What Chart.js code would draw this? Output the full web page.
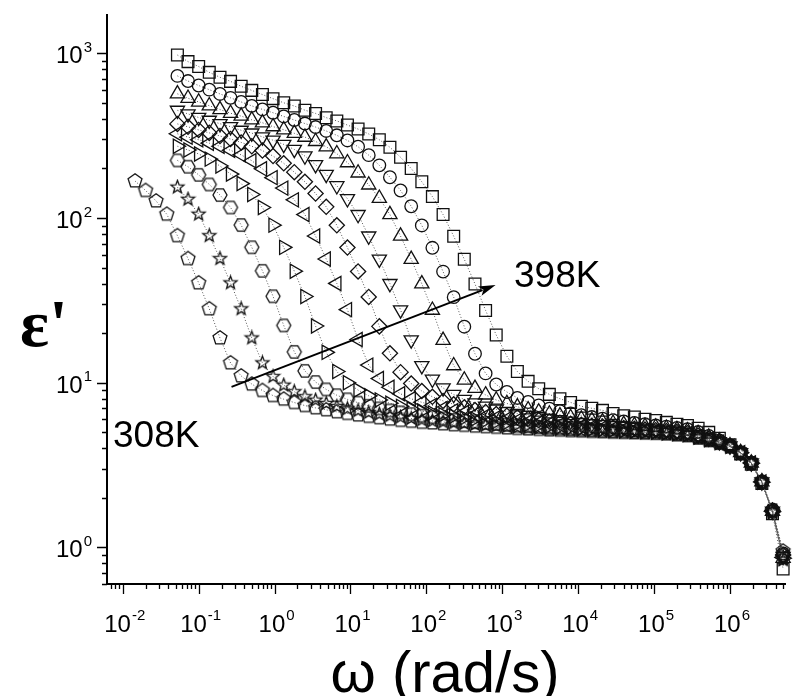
<!DOCTYPE html>
<html>
<head>
<meta charset="utf-8">
<script src="https://cdn.jsdelivr.net/npm/chart.js@4.4.1/dist/chart.umd.min.js"></script>
<style>
  html, body { margin: 0; padding: 0; background: #fff; }
  canvas { display: block; }
</style>
</head>
<body>
<canvas id="epsChart" width="795" height="696"></canvas>
<script>
// angular frequency sweep (rad/s), shared by all temperatures
const omega = [0.0145, 0.02, 0.0275, 0.038, 0.0525, 0.0724, 0.1, 0.138, 0.191, 0.263,
  0.363, 0.501, 0.692, 0.955, 1.32, 1.82, 2.51, 3.47, 4.79, 6.61,
  9.12, 12.6, 17.4, 24, 33.1, 45.7, 63.1, 87.1, 120, 166,
  229, 316, 437, 603, 832, 1150, 1580, 2190, 3020, 4170,
  5750, 7940, 11000, 15100, 20900, 28800, 39800, 55000, 75900, 105000,
  145000, 200000, 275000, 380000, 525000, 724000, 1000000, 1380000, 1910000, 2630000,
  3630000, 5010000];

// real permittivity eps' at each temperature
const eps308 = [168, 147, 127, 105.5, 78.1, 56.7, 40.4, 28.1, 18.7, 13.2,
  11.0, 9.82, 8.97, 8.36, 7.95, 7.58, 7.27, 7.04, 6.85, 6.66,
  6.51, 6.37, 6.25, 6.13, 6.01, 5.91, 5.83, 5.75, 5.7, 5.63,
  5.56, 5.51, 5.45, 5.41, 5.36, 5.32, 5.28, 5.24, 5.21, 5.17,
  5.15, 5.11, 5.09, 5.06, 5.04, 5.01, 4.99, 4.97, 4.95, 4.93,
  4.89, 4.83, 4.77, 4.62, 4.46, 4.3, 4.1, 3.75, 3.25, 2.5,
  1.66, 0.95];
const eps318 = [null, null, null, null, 154, 130, 105.5, 78.1, 56.7, 40.4,
  28.1, 18.7, 13.2, 10.9, 9.67, 8.82, 8.23, 7.84, 7.49, 7.18,
  6.95, 6.77, 6.59, 6.45, 6.31, 6.19, 6.07, 5.95, 5.86, 5.78,
  5.7, 5.65, 5.58, 5.52, 5.46, 5.41, 5.36, 5.32, 5.28, 5.24,
  5.2, 5.16, 5.13, 5.1, 5.07, 5.04, 5.02, 4.99, 4.97, 4.94,
  4.9, 4.85, 4.79, 4.63, 4.47, 4.31, 4.1, 3.75, 3.25, 2.49,
  1.64, 0.84];
const eps328 = [null, null, null, null, 224, 205, 183, 160, 138, 116,
  90.7, 66.5, 47.8, 33.5, 22.3, 15.4, 11.8, 10.1, 9.11, 8.4,
  7.93, 7.57, 7.25, 6.99, 6.79, 6.61, 6.45, 6.31, 6.18, 6.07,
  5.95, 5.85, 5.76, 5.69, 5.62, 5.56, 5.49, 5.44, 5.39, 5.33,
  5.29, 5.24, 5.21, 5.16, 5.13, 5.09, 5.07, 5.03, 5.01, 4.98,
  4.94, 4.88, 4.82, 4.65, 4.49, 4.32, 4.11, 3.76, 3.25, 2.5,
  1.66, 0.9];
const eps338 = [null, null, null, null, 273, 259, 245, 228, 207, 185,
  162, 139, 116, 90.6, 66.4, 47.6, 33.4, 22.1, 15.3, 11.7,
  10.0, 9.03, 8.33, 7.87, 7.51, 7.19, 6.93, 6.73, 6.56, 6.4,
  6.26, 6.13, 6.02, 5.91, 5.8, 5.72, 5.64, 5.58, 5.52, 5.45,
  5.4, 5.34, 5.29, 5.24, 5.2, 5.16, 5.12, 5.08, 5.05, 5.02,
  4.97, 4.91, 4.85, 4.69, 4.52, 4.34, 4.11, 3.76, 3.25, 2.49,
  1.65, 0.86];
const eps348 = [null, null, null, null, 325, 310, 299, 285, 273, 258,
  242, 223, 199, 176, 152, 129, 105, 77.8, 56.4, 40.1,
  27.8, 18.3, 12.8, 10.6, 9.39, 8.57, 7.99, 7.61, 7.28, 6.98,
  6.76, 6.59, 6.41, 6.28, 6.14, 6.03, 5.91, 5.8, 5.71, 5.63,
  5.56, 5.5, 5.44, 5.37, 5.32, 5.26, 5.22, 5.17, 5.13, 5.09,
  5.03, 4.96, 4.89, 4.73, 4.54, 4.35, 4.11, 3.76, 3.26, 2.5,
  1.66, 0.87];
const eps358 = [null, null, null, null, 373, 358, 343, 329, 315, 302,
  288, 273, 257, 238, 215, 190, 166, 141, 117, 90.4,
  66.2, 47.4, 33.2, 22.0, 15.1, 11.6, 9.89, 8.91, 8.22, 7.76,
  7.4, 7.09, 6.83, 6.64, 6.46, 6.31, 6.17, 6.04, 5.94, 5.82,
  5.72, 5.63, 5.56, 5.49, 5.43, 5.36, 5.31, 5.25, 5.2, 5.15,
  5.09, 5.02, 4.94, 4.77, 4.57, 4.37, 4.12, 3.76, 3.25, 2.5,
  1.67, 0.9];
const eps368 = [null, null, null, null, 451, 429, 408, 392, 374, 359,
  341, 328, 311, 297, 280, 261, 238, 211, 184, 157,
  131, 105, 77.7, 56.3, 40.0, 27.7, 18.2, 12.7, 10.5, 9.3,
  8.48, 7.91, 7.53, 7.2, 6.9, 6.69, 6.51, 6.34, 6.21, 6.07,
  5.96, 5.84, 5.73, 5.63, 5.56, 5.48, 5.43, 5.36, 5.3, 5.24,
  5.17, 5.09, 5.01, 4.83, 4.62, 4.39, 4.13, 3.76, 3.26, 2.5,
  1.66, 0.88];
const eps378 = [null, null, null, null, 568, 534, 507, 481, 456, 433,
  416, 395, 379, 359, 344, 327, 310, 292, 271, 246,
  217, 188, 159, 132, 105, 77.7, 56.2, 39.9, 27.6, 18.1,
  12.7, 10.4, 9.25, 8.44, 7.86, 7.49, 7.15, 6.86, 6.65, 6.47,
  6.3, 6.16, 6.03, 5.91, 5.8, 5.68, 5.59, 5.51, 5.44, 5.38,
  5.3, 5.2, 5.11, 4.92, 4.68, 4.43, 4.15, 3.77, 3.26, 2.51,
  1.66, 0.86];
const eps388 = [null, null, null, null, 730, 679, 638, 602, 567, 537,
  507, 480, 457, 436, 414, 394, 375, 357, 338, 318,
  296, 271, 241, 209, 177, 147, 118, 90.2, 66.0, 47.3,
  33.1, 21.9, 15.0, 11.4, 9.76, 8.79, 8.09, 7.64, 7.29, 6.97,
  6.72, 6.52, 6.35, 6.19, 6.06, 5.92, 5.82, 5.7, 5.6, 5.51,
  5.42, 5.32, 5.22, 5.02, 4.75, 4.47, 4.18, 3.78, 3.27, 2.52,
  1.7, 0.92];
const eps398 = [null, null, null, null, 977, 891, 832, 767, 716, 676,
  631, 596, 562, 531, 501, 479, 452, 432, 407, 389,
  367, 347, 324, 299, 269, 234, 200, 166, 135, 105,
  77.6, 56.2, 39.8, 27.5, 19.5, 14.5, 11.7, 10.2, 9.2, 8.5,
  8.0, 7.6, 7.2, 7.0, 6.8, 6.5, 6.3, 6.2, 6.0, 5.9,
  5.75, 5.6, 5.5, 5.3, 5.0, 4.6, 4.2, 3.7, 3.2, 2.45,
  1.6, 0.74];

const temps = ['308K', '318K', '328K', '338K', '348K', '358K', '368K', '378K', '388K', '398K'];
const series = [eps308, eps318, eps328, eps338, eps348, eps358, eps368, eps378, eps388, eps398];

const xDecades = [-2, -1, 0, 1, 2, 3, 4, 5, 6];
const yDecades = [0, 1, 2, 3];

const INK = '#000';
const SANS = "'Liberation Sans', Arial, sans-serif";

// open marker outlines that Chart.js has no built-in for
function outline(points, size) {
  const c = document.createElement('canvas');
  c.width = c.height = size;
  const g = c.getContext('2d');
  g.translate(size / 2, size / 2);
  g.beginPath();
  points.forEach(([px, py], i) => (i ? g.lineTo(px, py) : g.moveTo(px, py)));
  g.closePath();
  g.lineWidth = 1.3;
  g.strokeStyle = '#111';
  g.stroke();
  return c;
}
function polygon(n, r, start) {
  const pts = [];
  for (let i = 0; i < n; i++) {
    const a = start + i * 2 * Math.PI / n;
    pts.push([r * Math.cos(a), r * Math.sin(a)]);
  }
  return pts;
}
function starPoints(r, inner) {
  const pts = [];
  for (let i = 0; i < 10; i++) {
    const a = -Math.PI / 2 + i * Math.PI / 5;
    const rr = i % 2 ? r * inner : r;
    pts.push([rr * Math.cos(a), rr * Math.sin(a)]);
  }
  return pts;
}
const pentagon = outline(polygon(5, 7.3, -Math.PI / 2), 18);
const hexagon = outline(polygon(6, 7, 0), 18);
const star = outline(starPoints(6.8, 0.42), 17);

const markers = [
  { style: pentagon, r: 7, rot: 0 },
  { style: star, r: 6.5, rot: 0 },
  { style: hexagon, r: 7, rot: 0 },
  { style: 'triangle', r: 8.2, rot: 90 },
  { style: 'triangle', r: 8.2, rot: -90 },
  { style: 'rectRot', r: 7.6, rot: 0 },
  { style: 'triangle', r: 8.2, rot: 180 },
  { style: 'triangle', r: 8.2, rot: 0 },
  { style: 'circle', r: 6.3, rot: 0 },
  { style: 'rect', r: 8.3, rot: 0 }
];

const datasets = series.map((vals, i) => ({
  label: temps[i],
  data: omega.map((w, j) => (vals[j] == null ? null : { x: w, y: vals[j] })).filter(p => p),
  borderColor: '#555',
  borderWidth: 1,
  borderDash: [1, 2],
  pointStyle: markers[i].style,
  pointRadius: markers[i].r,
  pointRotation: markers[i].rot,
  pointBorderColor: '#111',
  pointBorderWidth: 1.3,
  pointBackgroundColor: 'rgba(255,255,255,0)',
  tension: 0,
  clip: false
}));

// arrow running from the 308K curves towards the 398K curves
const arrowFrom = { x: 0.271, y: 9.45 };
const arrowTo = { x: 817, y: 39.2 };

function drawPower(ctx, base, exp, x, y, align, baseSize, supSize) {
  ctx.font = baseSize + 'px ' + SANS;
  const bw = ctx.measureText(base).width;
  ctx.font = supSize + 'px ' + SANS;
  const sw = ctx.measureText(exp).width;
  const total = bw + 1 + sw;
  let left = x;
  if (align === 'center') left = x - total / 2;
  if (align === 'right') left = x - total;
  ctx.textAlign = 'left';
  ctx.textBaseline = 'alphabetic';
  ctx.font = baseSize + 'px ' + SANS;
  ctx.fillText(base, left, y);
  ctx.font = supSize + 'px ' + SANS;
  ctx.fillText(exp, left + bw + 1, y - baseSize * 0.48);
}

const logAxes = {
  id: 'logAxes',
  afterDraw(chart) {
    const { ctx, chartArea: area, scales: { x: xs, y: ys } } = chart;
    ctx.save();
    ctx.strokeStyle = INK;
    ctx.fillStyle = INK;
    ctx.lineWidth = 1.3;
    ctx.beginPath();
    for (let d = -1; d <= 3; d++) {
      for (let m = 1; m <= 9; m++) {
        const v = m * Math.pow(10, d);
        if (v < ys.min || v > ys.max) continue;
        const py = Math.round(ys.getPixelForValue(v)) + 0.5;
        ctx.moveTo(area.left - (m === 1 ? 10 : 5), py);
        ctx.lineTo(area.left, py);
      }
    }
    for (let d = -3; d <= 6; d++) {
      for (let m = 1; m <= 9; m++) {
        const v = m * Math.pow(10, d);
        if (v < xs.min || v > xs.max) continue;
        const px = Math.round(xs.getPixelForValue(v)) + 0.5;
        ctx.moveTo(px, area.bottom);
        ctx.lineTo(px, area.bottom + (m === 1 ? 10 : 5));
      }
    }
    ctx.stroke();

    yDecades.forEach(d => {
      const py = ys.getPixelForValue(Math.pow(10, d));
      drawPower(ctx, '10', String(d), area.left - 15, py + 10, 'right', 24, 15);
    });
    xDecades.forEach(d => {
      const px = xs.getPixelForValue(Math.pow(10, d));
      drawPower(ctx, '10', d < 0 ? '-' + (-d) : String(d), px + 2, 632, 'center', 24, 15);
    });

    // axis titles
    ctx.textAlign = 'center';
    ctx.font = '58px ' + SANS;
    ctx.fillText('\u03c9 (rad/s)', 445, 692);
    ctx.font = "bold 68px 'Liberation Serif', serif";
    ctx.fillText('\u03b5\'', 44, 346);

    // temperature labels and arrow
    ctx.textAlign = 'left';
    ctx.font = '37px ' + SANS;
    ctx.fillText('308K', 113, 447);
    ctx.fillText('398K', 514, 287);

    const x0 = xs.getPixelForValue(arrowFrom.x), y0 = ys.getPixelForValue(arrowFrom.y);
    const x1 = xs.getPixelForValue(arrowTo.x), y1 = ys.getPixelForValue(arrowTo.y);
    const ang = Math.atan2(y1 - y0, x1 - x0);
    const head = 17, half = 5;
    ctx.lineWidth = 2;
    ctx.beginPath();
    ctx.moveTo(x0, y0);
    ctx.lineTo(x1 - Math.cos(ang) * (head - 3), y1 - Math.sin(ang) * (head - 3));
    ctx.stroke();
    ctx.beginPath();
    ctx.moveTo(x1, y1);
    ctx.lineTo(x1 - Math.cos(ang) * head + Math.sin(ang) * half, y1 - Math.sin(ang) * head - Math.cos(ang) * half);
    ctx.lineTo(x1 - Math.cos(ang) * (head - 4), y1 - Math.sin(ang) * (head - 4));
    ctx.lineTo(x1 - Math.cos(ang) * head - Math.sin(ang) * half, y1 - Math.sin(ang) * head + Math.cos(ang) * half);
    ctx.closePath();
    ctx.fill();
    ctx.restore();
  }
};

new Chart(document.getElementById('epsChart'), {
  type: 'line',
  data: { datasets },
  options: {
    responsive: false,
    animation: false,
    devicePixelRatio: 1,
    layout: { padding: { left: 107, top: 15, right: 2, bottom: 112 } },
    plugins: { legend: { display: false }, tooltip: { enabled: false } },
    scales: {
      x: {
        type: 'logarithmic',
        min: 0.0062,
        max: 5.37e6,
        afterFit(scale) { scale.height = 0; },
        ticks: { display: false },
        grid: { display: true, drawOnChartArea: false, drawTicks: false },
        border: { display: true, color: INK, width: 2 }
      },
      y: {
        type: 'logarithmic',
        min: 0.614,
        max: 1710,
        afterFit(scale) { scale.width = 0; },
        ticks: { display: false },
        grid: { display: true, drawOnChartArea: false, drawTicks: false },
        border: { display: true, color: INK, width: 2 }
      }
    }
  },
  plugins: [logAxes]
});
</script>
</body>
</html>
